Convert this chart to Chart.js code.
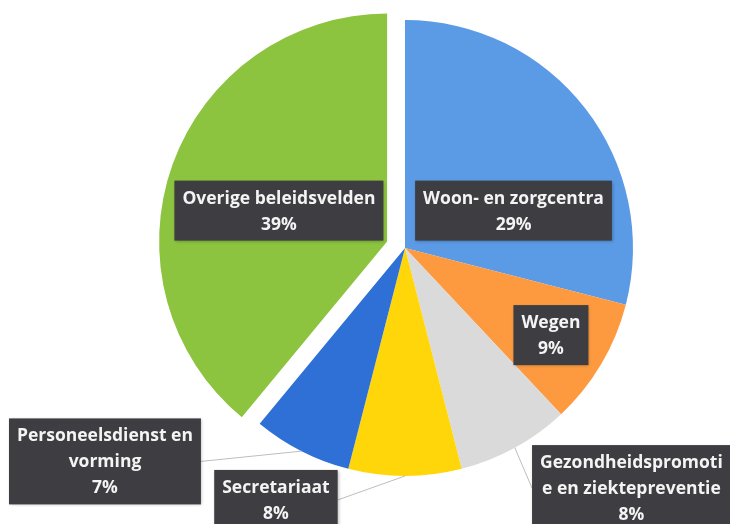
<!DOCTYPE html>
<html>
<head>
<meta charset="utf-8">
<script src="https://cdn.jsdelivr.net/npm/chart.js@4/dist/chart.umd.min.js"></script>
<style>
  html, body { margin: 0; padding: 0; background: #fff; }
  #wrap { width: 730px; height: 524px; }
</style>
</head>
<body>
<div id="wrap"><canvas id="myChart" width="730" height="524"></canvas></div>
<script>
// data
const categories = [
  'Woon- en zorgcentra',
  'Wegen',
  'Gezondheidspromotie en ziektepreventie',
  'Secretariaat',
  'Personeelsdienst en vorming',
  'Overige beleidsvelden',
];
const shares = [29, 9, 8, 8, 7, 39];
// label text as it wraps in the original
const labelLines = [
  ['Woon- en zorgcentra'],
  ['Wegen'],
  ['Gezondheidspromoti', 'e en ziektepreventie'],
  ['Secretariaat'],
  ['Personeelsdienst en', 'vorming'],
  ['Overige beleidsvelden'],
];

const colors = ['#5b9be6', '#fd9a3f', '#dadada', '#ffd60a', '#2f70d6', '#8cc33f'];
// how far each slice is pulled out of the pie (px)
const explode = [0, 0, 0, 0, 0, 19];

// label box centre, in units of the radius from the pie centre
const labelPos = [
  { fx: 0.476, fy: -0.164 },
  { fx: 0.640, fy: 0.382 },
  { fx: 0.993, fy: 1.053, leader: true },
  { fx: -0.566, fy: 1.105, leader: true },
  { fx: -1.316, fy: 0.936, leader: true },
  { fx: -0.553, fy: -0.164 },
];

const total = shares.reduce((a, b) => a + b, 0);

// draw the arcs ourselves so a slice can be pulled out without shrinking the pie
const explodedSlices = {
  id: 'explodedSlices',
  beforeDatasetDraw(chart, args) {
    const ctx = chart.ctx;
    args.meta.data.forEach((arc, i) => {
      const mid = (arc.startAngle + arc.endAngle) / 2;
      ctx.save();
      ctx.translate(Math.cos(mid) * explode[i], Math.sin(mid) * explode[i]);
      arc.draw(ctx);
      ctx.restore();
    });
    return false;
  },
};

const labelBoxes = {
  id: 'labelBoxes',
  afterDatasetsDraw(chart) {
    const ctx = chart.ctx;
    const arcs = chart.getDatasetMeta(0).data;
    const lineH = 26;
    ctx.save();
    ctx.font = 'bold 17.5px "Open Sans", sans-serif';
    ctx.textAlign = 'center';
    ctx.textBaseline = 'middle';

    arcs.forEach((arc, i) => {
      const R = arc.outerRadius;
      const cx = arc.x, cy = arc.y;
      const lines = labelLines[i].concat([Math.round(shares[i] / total * 100) + '%']);
      const w = Math.max(...lines.map(l => ctx.measureText(l).width)) + 16;
      const h = lines.length * lineH + 8;
      const bx = cx + labelPos[i].fx * R;
      const by = cy + labelPos[i].fy * R;

      // leader line from the box side to the middle of the slice edge
      if (labelPos[i].leader) {
        const mid = (arc.startAngle + arc.endAngle) / 2;
        const px = cx + Math.cos(mid) * R;
        const py = cy + Math.sin(mid) * R;
        const ex = px > bx ? bx + w / 2 : bx - w / 2;
        ctx.strokeStyle = '#bdbdbd';
        ctx.lineWidth = 1;
        ctx.beginPath();
        ctx.moveTo(ex, by);
        ctx.lineTo(px, py);
        ctx.stroke();
      }

      ctx.shadowColor = 'rgba(0,0,0,0.25)';
      ctx.shadowBlur = 3;
      ctx.shadowOffsetX = 1;
      ctx.shadowOffsetY = 1;
      ctx.fillStyle = '#3d3d42';
      ctx.fillRect(bx - w / 2, by - h / 2, w, h);
      ctx.shadowColor = 'transparent';

      ctx.fillStyle = '#f4f4f4';
      lines.forEach((l, k) => {
        ctx.fillText(l, bx, by - (lines.length - 1) * lineH / 2 + k * lineH + 1);
      });
    });
    ctx.restore();
  },
};

const config = {
  type: 'pie',
  data: {
    labels: categories,
    datasets: [{
      data: shares,
      backgroundColor: colors,
      borderWidth: 0,
      hoverOffset: 0,
    }],
  },
  options: {
    responsive: false,
    animation: false,
    events: [],
    layout: {
      padding: { left: 80, right: 0, top: 20, bottom: 48 },
    },
    plugins: {
      legend: { display: false },
      tooltip: { enabled: false },
    },
  },
  plugins: [explodedSlices, labelBoxes],
};

var myChart = new Chart(document.getElementById('myChart'), config);
</script>
</body>
</html>
